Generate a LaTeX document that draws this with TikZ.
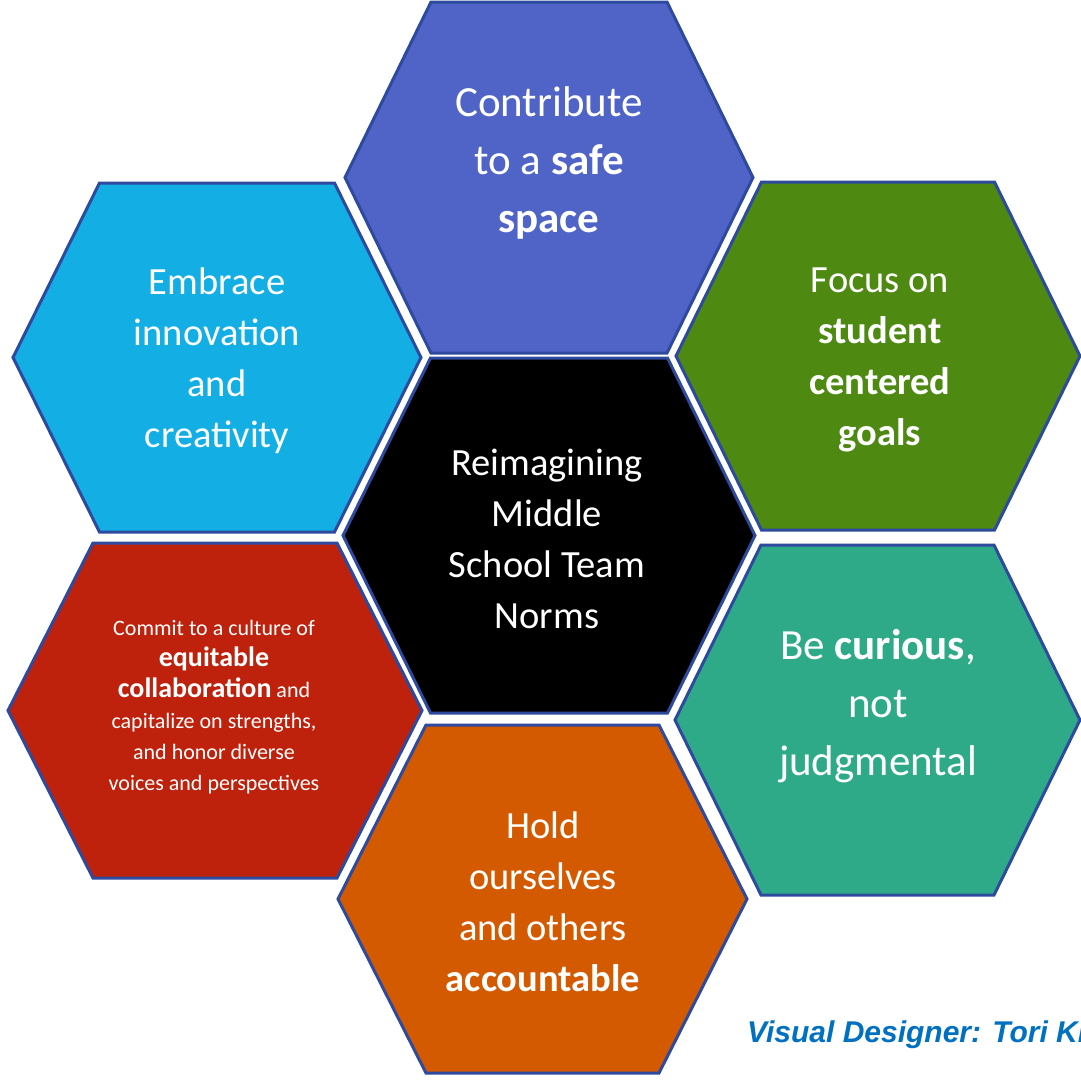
\documentclass[tikz,border=0pt]{standalone}
\usepackage{fontspec}
\setmainfont{Carlito}
\newfontfamily\creditfont{Liberation Sans}
\definecolor{hexborder}{RGB}{46,74,158}
\definecolor{hexblue}{RGB}{80,100,200}
\definecolor{hexcyan}{RGB}{18,174,228}
\definecolor{hexgreen}{RGB}{78,138,18}
\definecolor{hexred}{RGB}{190,33,12}
\definecolor{hexteal}{RGB}{47,170,136}
\definecolor{hexorange}{RGB}{212,90,0}
\definecolor{creditblue}{RGB}{0,112,192}
\tikzset{
  hexline/.style={draw=hexborder, line width=3pt, line join=miter},
  hextext/.style={text=white, align=center, inner sep=0pt, font=\fontsize{38.5}{51}\selectfont},
  bigtext/.style={text=white, align=center, inner sep=0pt, font=\fontsize{43}{58}\selectfont},
  smalltext/.style={text=white, align=center, inner sep=0pt, font=\fontsize{22}{31}\selectfont},
}
\newcommand\hexcell[6]{% cx cy R a h colour
  \filldraw[hexline, fill=#6] ({#1-#3},#2) -- ({#1-#4},{#2-#5}) -- ({#1+#4},{#2-#5})
    -- ({#1+#3},#2) -- ({#1+#4},{#2+#5}) -- ({#1-#4},{#2+#5}) -- cycle;}
\begin{document}
\begin{tikzpicture}[x=1pt,y=-1pt]
\useasboundingbox (0,0) rectangle (1081,1080);
\clip (0,0) rectangle (1081,1080);
\fill[white] (0,0) rectangle (1081,1080);

\hexcell{549}{177.5}{204}{118}{175.5}{hexblue}
\hexcell{217}{357.5}{204}{117.5}{174.5}{hexcyan}
\hexcell{878}{356}{202}{116.5}{174}{hexgreen}
\hexcell{549}{535.5}{206}{118.5}{177.5}{black}
\hexcell{215}{710.5}{207}{122}{167.5}{hexred}
\hexcell{877.5}{720}{202.5}{116.5}{175}{hexteal}
\hexcell{542.5}{899}{204.5}{116.5}{174}{hexorange}

\node[bigtext] (nsafe) at (549,163) {Contribute\\to a \textbf{safe}\\\textbf{space}};
\node[hextext] (ninnov) at (217,361) {Embrace\\innovation\\and\\creativity};
\node[hextext] (ngoals) at (880,360) {Focus on\\\textbf{student}\\\textbf{centered}\\\textbf{goals}};
\node[hextext] (ncenter) at (547,539) {Reimagining\\Middle\\School Team\\Norms};
\node[smalltext] (ncollab) at (214,707) {Commit to a culture of\\{\bfseries\fontsize{28}{31}\selectfont equitable}\\{\bfseries\fontsize{28}{31}\selectfont collaboration} and\\capitalize on strengths,\\and honor diverse\\voices and perspectives};
\node[bigtext] (ncurious) at (878,706) {Be \textbf{curious},\\not\\judgmental};
\node[hextext] (naccount) at (543,902) {Hold\\ourselves\\and others\\\textbf{accountable}};

\node[anchor=base west, inner sep=0pt, text=creditblue, font=\creditfont\bfseries\itshape\fontsize{30}{36}\selectfont] (ncredit) at (747,1042) {Visual Designer: Tori Kr};
\end{tikzpicture}
\end{document}
